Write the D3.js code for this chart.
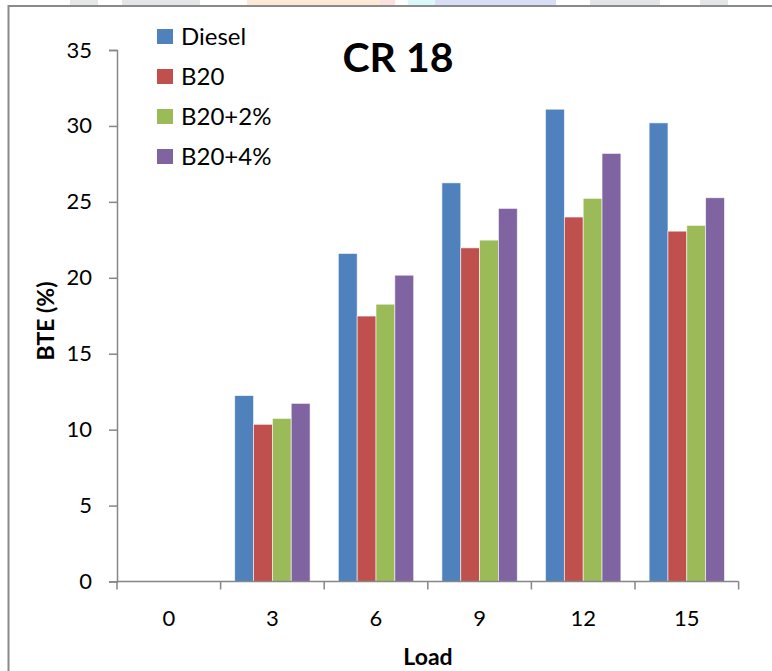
<!DOCTYPE html>
<html>
<head>
<meta charset="utf-8">
<script src="https://cdn.jsdelivr.net/npm/d3@7"></script>
<style>
  html, body { margin: 0; padding: 0; background: #fff; }
  svg { display: block; }
  text { font-family: Lato, "Open Sans", sans-serif; fill: #000; }
</style>
</head>
<body>
<svg id="chart" width="772" height="671"></svg>
<script>
// Brake thermal efficiency by load, compression ratio 18
const loads = ["0", "3", "6", "9", "12", "15"];
const seriesNames = ["Diesel", "B20", "B20+2%", "B20+4%"];
const diesel = [0, 12.24, 21.6, 26.25, 31.1, 30.2];
const b20 = [0, 10.35, 17.48, 21.97, 24.0, 23.07];
const b20p2 = [0, 10.74, 18.26, 22.48, 25.23, 23.45];
const b20p4 = [0, 11.73, 20.17, 24.57, 28.19, 25.27];
const yTicks = [0, 5, 10, 15, 20, 25, 30, 35];
const colors = ["#4F81BD", "#C0504D", "#9BBB59", "#8064A2"];

const seriesValues = [diesel, b20, b20p2, b20p4];

const svg = d3.select("#chart");

// faint page decoration along the top edge
const deco = [
  [70, 98, "#e6e8e8"], [122, 200, "#e3e6e6"], [247, 380, "#fde9d6"],
  [380, 395, "#fde0e0"], [408, 435, "#dafafa"], [435, 556, "#d8def5"],
  [590, 660, "#e1e5e5"], [700, 728, "#e3e6e6"]
];
svg.append("g").selectAll("rect").data(deco).join("rect")
  .attr("x", d => d[0]).attr("y", 0)
  .attr("width", d => d[1] - d[0]).attr("height", 5)
  .attr("fill", d => d[2]);

// chart frame (continues past the right and bottom edges)
svg.append("path")
  .attr("d", "M8.5,700 L8.5,6 L800,6")
  .attr("fill", "none").attr("stroke", "#8a8a8a").attr("stroke-width", 2);

const x0 = 117, x1 = 738.6, yBottom = 581.5, yTop = 50;

const x = d3.scaleBand().domain(loads).range([x0, x1]).padding(0);
const bw = x.bandwidth();
const gap = bw * 1.5 / 5.5;
const xs = d3.scaleBand().domain(seriesNames).range([gap / 2, bw - gap / 2]).padding(0);
const y = d3.scaleLinear().domain([0, 35]).range([yBottom, yTop]);

// bars
const groups = svg.append("g").selectAll("g").data(seriesNames).join("g")
  .attr("fill", (d, i) => colors[i]);
groups.selectAll("rect")
  .data((name, i) => seriesValues[i].map((v, j) => ({ name, load: loads[j], v })))
  .join("rect")
  .filter(d => d.v > 0)
  .attr("x", d => x(d.load) + xs(d.name))
  .attr("y", d => y(d.v))
  .attr("width", xs.bandwidth())
  .attr("height", d => y(0) - y(d.v))
  .attr("stroke", "#ffffff").attr("stroke-opacity", 0.7).attr("stroke-width", 0.8);

const axisColor = "#868686";

// y axis
const yAxis = svg.append("g").attr("transform", `translate(${x0},0)`)
  .call(d3.axisLeft(y).tickValues(yTicks).tickSize(8).tickPadding(17).tickFormat(d3.format("d")));
yAxis.select(".domain").attr("stroke", axisColor).attr("stroke-width", 1.5);
yAxis.selectAll(".tick line").attr("stroke", axisColor).attr("stroke-width", 1.5);
yAxis.selectAll(".tick text").style("font-size", "22px").attr("font-family", "Lato, sans-serif").attr("fill", "#000");

// x axis: ticks sit on category boundaries
const xAxisG = svg.append("g").attr("transform", `translate(0,${yBottom})`);
xAxisG.append("line").attr("x1", x0).attr("x2", x1).attr("y1", 0).attr("y2", 0)
  .attr("stroke", axisColor).attr("stroke-width", 1.5);
const bounds = loads.map(d => x(d)).concat([x1]);
xAxisG.selectAll("line.tk").data(bounds).join("line").attr("class", "tk")
  .attr("x1", d => d).attr("x2", d => d).attr("y1", 0).attr("y2", 8)
  .attr("stroke", axisColor).attr("stroke-width", 1.5);
xAxisG.selectAll("text").data(loads).join("text")
  .attr("x", d => x(d) + bw / 2).attr("y", 44)
  .attr("text-anchor", "middle").style("font-size", "22px").text(d => d);

// axis titles
svg.append("text").attr("x", 428).attr("y", 665).attr("text-anchor", "middle")
  .style("font-size", "23px").style("font-weight", "bold").text("Load");
svg.append("text").attr("transform", "translate(54,321) rotate(-90)")
  .attr("text-anchor", "middle").style("font-size", "23px").style("font-weight", "bold").text("BTE (%)");

// title
svg.append("text").attr("x", 398).attr("y", 72).attr("text-anchor", "middle")
  .style("font-size", "41px").style("font-weight", "bold").text("CR 18");

// legend
const legend = svg.append("g").selectAll("g").data(seriesNames).join("g")
  .attr("transform", (d, i) => `translate(157,${29 + i * 40})`);
legend.append("rect").attr("width", 16).attr("height", 15).attr("fill", (d, i) => colors[i]);
legend.append("text").attr("x", 24).attr("y", 16).style("font-size", "24px").text(d => d);
</script>
</body>
</html>
